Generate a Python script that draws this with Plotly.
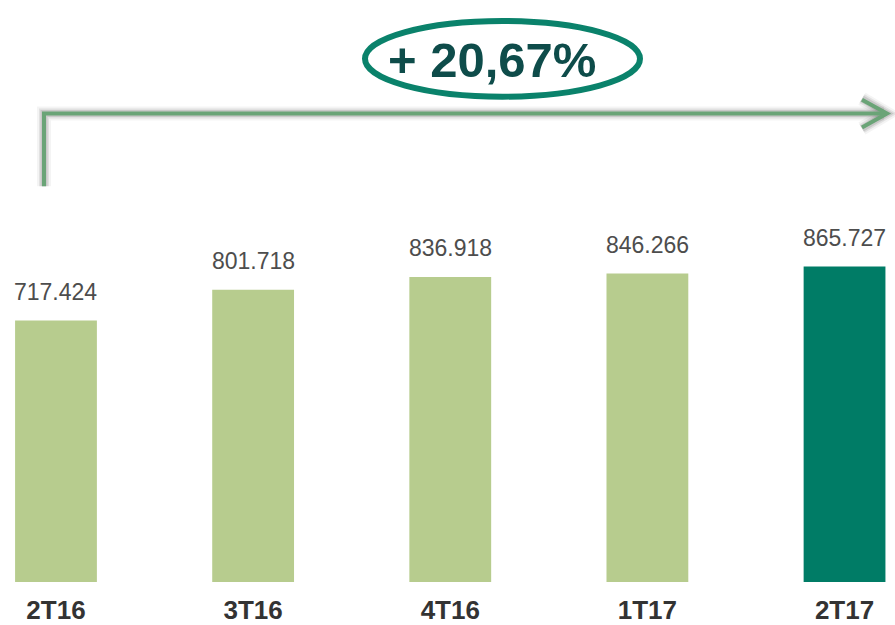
import plotly.graph_objects as go

categories = ["2T16", "3T16", "4T16", "1T17", "2T17"]
values = [717.424, 801.718, 836.918, 846.266, 865.727]
value_labels = ["717.424", "801.718", "836.918", "846.266", "865.727"]
bar_colors = ["#b7cc8e", "#b7cc8e", "#b7cc8e", "#b7cc8e", "#007c66"]
growth_label = "+ 20,67%"

W, H = 895, 625
B = 41
PH = H - B  # plot height in px


def px(x):
    return x / W


def py(y):
    return (PH - y) / PH


FONT = "Arial, Liberation Sans, sans-serif"

fig = go.Figure()
fig.add_trace(go.Bar(
    x=categories, y=values,
    marker=dict(color=bar_colors, line=dict(width=0)),
    width=0.415,
    hoverinfo="skip",
))

annotations = []
for c, v, t in zip(categories, values, value_labels):
    annotations.append(dict(
        x=c, y=v, xref="x", yref="y", text=t, showarrow=False,
        yanchor="bottom", yshift=14,
        font=dict(family=FONT, size=23, color="#4d4d4d"),
    ))

annotations.append(dict(
    x=px(492), y=py(60), xref="paper", yref="paper", text="<b>" + growth_label + "</b>",
    showarrow=False, xanchor="center", yanchor="middle",
    font=dict(family=FONT, size=49, color="#0e4c4a"),
))

shapes = []
# shadow for arrow
for w, op in [(14, 0.06), (10, 0.10), (7, 0.15)]:
    shapes.append(dict(
        type="path", xref="paper", yref="paper",
        path=f"M {px(44)},{py(187)} L {px(44)},{py(114)} L {px(884)},{py(114)}",
        line=dict(color=f"rgba(60,60,60,{op})", width=w),
    ))
    shapes.append(dict(
        type="path", xref="paper", yref="paper",
        path=f"M {px(862)},{py(99)} L {px(887)},{py(114)} L {px(862)},{py(129)}",
        line=dict(color=f"rgba(60,60,60,{op})", width=w),
    ))
shapes.append(dict(
    type="path", xref="paper", yref="paper",
    path=f"M {px(44)},{py(187)} L {px(44)},{py(114)} L {px(884)},{py(114)}",
    line=dict(color="#6aa477", width=4),
))
shapes.append(dict(
    type="path", xref="paper", yref="paper",
    path=f"M {px(862)},{py(100)} L {px(887)},{py(114)} L {px(862)},{py(128)}",
    line=dict(color="#6aa477", width=4),
))
# ellipse
shapes.append(dict(
    type="circle", xref="paper", yref="paper",
    x0=px(365), x1=px(640), y0=py(97), y1=py(21),
    line=dict(color="#0a826b", width=6),
))

fig.update_layout(
    width=W, height=H,
    margin=dict(l=0, r=0, t=0, b=B),
    paper_bgcolor="white", plot_bgcolor="white",
    showlegend=False,
    bargap=0.5,
    xaxis=dict(
        range=[-0.284, 4.256], showgrid=False, zeroline=False, showline=False,
        ticks="", tickfont=dict(family=FONT, size=26, color="#333333"),
        tickvals=categories, ticktext=["<b>" + c + "</b>" for c in categories],
        ticklabelstandoff=10,
    ),
    yaxis=dict(range=[0, 1597], visible=False),
    annotations=annotations,
    shapes=shapes,
)

fig.write_html(
    "out.html",
    config={"displayModeBar": False},
    post_script="document.body.style.margin='0';document.body.style.overflow='hidden';",
)
